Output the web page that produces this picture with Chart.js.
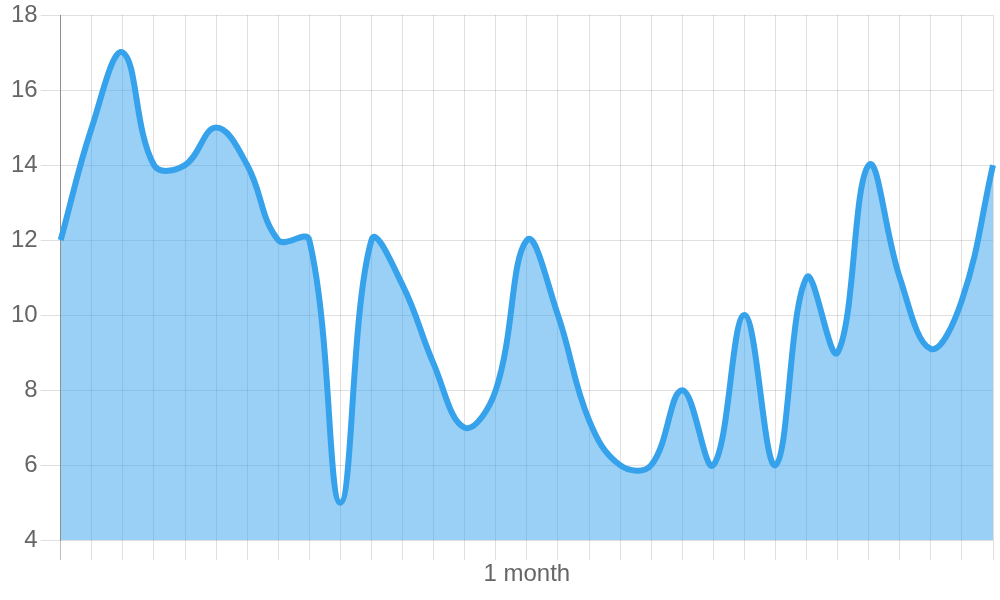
<!DOCTYPE html>
<html>
<head>
<meta charset="utf-8">
<script src="https://cdn.jsdelivr.net/npm/chart.js@4.4.0/dist/chart.umd.min.js"></script>
<style>
    html, body { margin: 0; padding: 0; background: #fff; }
    #wrap { width: 1000px; height: 600px; position: relative; }
</style>
</head>
<body>
<div id="wrap"><canvas id="chart"></canvas></div>
<script>
// Daily values over one month
const days = ['1', '2', '3', '4', '5', '6', '7', '8', '9', '10', '11', '12', '13', '14', '15', '16',
    '17', '18', '19', '20', '21', '22', '23', '24', '25', '26', '27', '28', '29', '30', '31'];
const values = [12, 15, 17, 14, 14, 15, 14, 12, 12, 5, 12, 10.8, 8.7, 7, 8, 12,
    10, 7.2, 6, 6, 8, 6, 10, 6, 11, 9, 14, 11, 9.1, 10.4, 14];
const yTicks = [4, 6, 8, 10, 12, 14, 16, 18];
const xTitle = '1 month';

const blue = 'rgb(54, 162, 235)';
const fillBlue = 'rgba(54, 162, 235, 0.5)';
const grey = '#666';

Chart.defaults.font.family = "'Liberation Sans', Arial, sans-serif";

new Chart(document.getElementById('chart'), {
    type: 'line',
    data: {
        labels: days,
        datasets: [{
            data: values,
            borderColor: blue,
            backgroundColor: fillBlue,
            borderWidth: 6,
            pointRadius: 0,
            tension: 0.4,
            fill: 'start'
        }]
    },
    options: {
        responsive: true,
        maintainAspectRatio: false,
        animation: false,
        layout: {padding: {left: 8, right: 7, top: 0, bottom: 11}},
        plugins: {
            legend: {display: false},
            tooltip: {enabled: false}
        },
        scales: {
            x: {
                ticks: {display: false},
                grid: {
                    tickLength: 20,
                    color: ctx => ctx.index === 0 ? 'rgba(0,0,0,0.25)' : 'rgba(0,0,0,0.12)'
                },
                border: {display: false},
                title: {
                    display: true,
                    text: xTitle,
                    color: grey,
                    font: {size: 24},
                    padding: 0
                }
            },
            y: {
                min: yTicks[0],
                max: yTicks[yTicks.length - 1],
                afterBuildTicks: axis => { axis.ticks = yTicks.map(v => ({value: v})); },
                ticks: {color: grey, font: {size: 24, lineHeight: 1.0}, padding: 3},
                grid: {tickLength: 20, color: 'rgba(0,0,0,0.12)'},
                border: {color: 'rgba(0,0,0,0.25)'}
            }
        }
    }
});
</script>
</body>
</html>
